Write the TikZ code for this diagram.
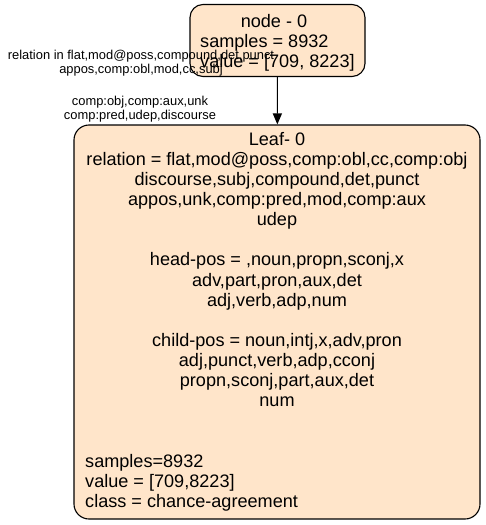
\documentclass[tikz,border=0pt]{standalone}
\usepackage{fontspec}
\setmainfont{Liberation Sans}
\usetikzlibrary{arrows.meta}
\definecolor{nodefill}{HTML}{FFE5CA}
\tikzset{
  box/.style={draw=black, line width=1.1pt, fill=nodefill, rounded corners=#1, inner sep=0pt},
  box/.default=13pt,
  conn/.style={draw=black, line width=1.1pt, -{Triangle[length=11pt,width=9pt]}},
  bigtext/.style={inner sep=0pt, font=\fontsize{18.1}{20.15}\selectfont},
  smalltext/.style={inner sep=0pt, font=\fontsize{12.9}{14.5}\selectfont},
}
\begin{document}
\begin{tikzpicture}[x=1pt,y=-1pt]
\useasboundingbox (0,0) rectangle (485,525);
% root node
\node[box=13pt, minimum width=175pt, minimum height=72pt] (n0) at (277.5,40.5) {};
\node[bigtext, anchor=base] (n0t) at (274,27) {node - 0};
\node[bigtext, anchor=base west] (n0s) at (200,47) {samples = 8932};
\node[bigtext, anchor=base west] (n0v) at (200,67) {value = [709, 8223]};
% leaf node
\node[box=15pt, minimum width=406pt, minimum height=394pt] (leaf) at (277,322) {};
\node[bigtext, anchor=base] (leafc) at (277,145) {\begin{tabular}[t]{@{}c@{}}
Leaf- 0\\
relation = flat,mod@poss,comp:obl,cc,comp:obj\\
discourse,subj,compound,det,punct\\
appos,unk,comp:pred,mod,comp:aux\\
udep\\
\\
head-pos = ,noun,propn,sconj,x\\
adv,part,pron,aux,det\\
adj,verb,adp,num\\
\\
child-pos = noun,intj,x,adv,pron\\
adj,punct,verb,adp,cconj\\
propn,sconj,part,aux,det\\
num
\end{tabular}};
\node[bigtext, anchor=base west] (leafl) at (85,467) {\begin{tabular}[t]{@{}l@{}}
samples=8932\\
value = [709,8223]\\
class = chance-agreement
\end{tabular}};
% connector
\draw[conn] (n0) -- (leaf);
% edge labels
\node[smalltext, anchor=base] (lab1) at (141,59) {\begin{tabular}[t]{@{}c@{}}
relation in flat,mod@poss,compound,det,punct\\
appos,comp:obl,mod,cc,subj
\end{tabular}};
\node[smalltext, anchor=base] (lab2) at (140,105) {\begin{tabular}[t]{@{}c@{}}
comp:obj,comp:aux,unk\\
comp:pred,udep,discourse
\end{tabular}};
\end{tikzpicture}
\end{document}
